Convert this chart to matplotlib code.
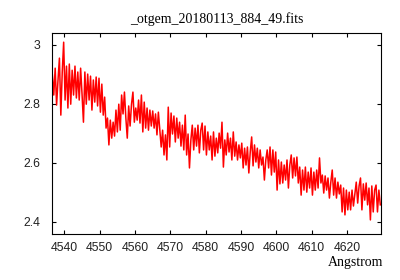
import numpy as np
import matplotlib
matplotlib.use("Agg")
import matplotlib.pyplot as plt
from matplotlib.ticker import FormatStrFormatter

start_wl = 4536.6
step_wl = 0.4

flux_a = [2.898, 2.830, 2.921, 2.796, 2.881, 2.955, 2.762, 2.908, 3.009, 2.813,
          2.928, 2.786, 2.935, 2.799, 2.914, 2.830, 2.928, 2.820, 2.908, 2.813,
          2.921, 2.833, 2.738, 2.908, 2.799, 2.901, 2.813, 2.894, 2.779, 2.881,
          2.806, 2.891, 2.793, 2.887, 2.772, 2.867, 2.762, 2.823, 2.718, 2.752,
          2.661, 2.745, 2.684, 2.738, 2.691, 2.779, 2.705]
flux_b = [2.799, 2.711, 2.830, 2.766, 2.840, 2.752, 2.684, 2.793, 2.725, 2.799,
          2.840, 2.738, 2.786, 2.745, 2.813, 2.735, 2.830, 2.705, 2.806, 2.718,
          2.786, 2.711, 2.779, 2.725, 2.776, 2.718, 2.766, 2.695, 2.772, 2.711,
          2.654, 2.711, 2.627, 2.695, 2.610, 2.789, 2.654, 2.769, 2.698, 2.759,
          2.671, 2.752, 2.684, 2.738, 2.657, 2.728, 2.644]
flux_c = [2.762, 2.627, 2.698, 2.583, 2.678, 2.728, 2.644, 2.718, 2.657, 2.728,
          2.634, 2.711, 2.735, 2.644, 2.725, 2.627, 2.705, 2.644, 2.691, 2.610,
          2.705, 2.623, 2.684, 2.634, 2.701, 2.650, 2.738, 2.586, 2.678, 2.627,
          2.701, 2.637, 2.684, 2.610, 2.705, 2.623, 2.671, 2.610, 2.661, 2.617,
          2.667, 2.583, 2.650, 2.593, 2.654, 2.566, 2.637]
flux_d = [2.688, 2.590, 2.661, 2.603, 2.650, 2.583, 2.644, 2.593, 2.620, 2.542,
          2.610, 2.644, 2.583, 2.654, 2.559, 2.644, 2.569, 2.637, 2.508, 2.610,
          2.529, 2.603, 2.532, 2.593, 2.542, 2.610, 2.515, 2.593, 2.627, 2.549,
          2.617, 2.556, 2.620, 2.532, 2.586, 2.491, 2.576, 2.508, 2.586, 2.501,
          2.569, 2.515, 2.583, 2.491, 2.569, 2.508]
flux_e = [2.576, 2.515, 2.617, 2.532, 2.559, 2.498, 2.556, 2.508, 2.549, 2.481,
          2.535, 2.576, 2.491, 2.549, 2.481, 2.535, 2.495, 2.525, 2.434, 2.515,
          2.424, 2.508, 2.441, 2.501, 2.441, 2.508, 2.454, 2.495, 2.535, 2.464,
          2.522, 2.549, 2.441, 2.529, 2.474, 2.532, 2.458, 2.515, 2.407, 2.522,
          2.434, 2.508, 2.525, 2.434, 2.508, 2.458]

flux = np.array(flux_a + flux_b + flux_c + flux_d + flux_e)
wave = start_wl + step_wl * np.arange(len(flux))

x_ticks = [4540, 4550, 4560, 4570, 4580, 4590, 4600, 4610, 4620]
y_ticks = [2.4, 2.6, 2.8, 3.0]

fig = plt.figure(figsize=(4, 2.8), dpi=100)
ax = fig.add_axes([0.13, 0.164, 0.8225, 0.718])
ax.plot(wave, flux, color='red', lw=1.1)

ax.set_xlim(4536.5, 4629.6)
ax.set_ylim(2.359, 3.04)
ax.set_xticks(x_ticks)
ax.set_yticks(y_ticks)
ax.yaxis.set_major_formatter(FormatStrFormatter('%g'))
ax.tick_params(direction='in', length=3, width=0.8, top=True, right=True,
               labelsize=8.8, colors='black')
ax.tick_params(axis='y', pad=8.5)
ax.tick_params(axis='x', pad=6)
for lab in ax.get_xticklabels() + ax.get_yticklabels():
    lab.set_family('Liberation Sans')
    lab.set_color('#222222')
for s in ax.spines.values():
    s.set_linewidth(0.8)

ax.set_title('_otgem_20180113_884_49.fits', family='Liberation Serif',
             fontsize=10, pad=7)
fig.text(0.9575, 0.063, 'Angstrom', family='Liberation Serif', fontsize=10,
         ha='right', va='center')

fig.savefig('out.png', dpi=100)
